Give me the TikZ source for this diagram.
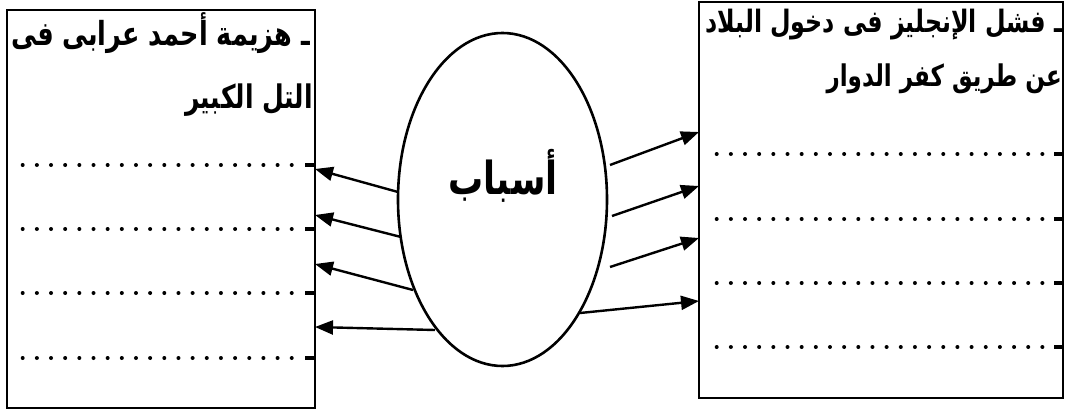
\documentclass[tikz,border=0pt]{standalone}
\usepackage{fontspec}
\TeXXeTstate=1
\newfontfamily\arabicfont[Script=Arabic]{DejaVu Sans}
\usetikzlibrary{shapes.geometric,arrows.meta}
\newcommand{\artxt}[1]{\scalebox{1}[1.3]{\beginR #1\endR}}
\begin{document}
\begin{tikzpicture}[x=1pt,y=-1pt,
  boxnode/.style={draw,line width=2.8pt,inner sep=0pt},
  arr/.style={line width=2.4pt,-{Triangle[length=18pt,width=14pt]}},
  dotline/.style={line width=4pt,line cap=round,dash pattern=on 0pt off 14.16pt},
  endbar/.style={line width=3.4pt},
  ltxt/.style={inner sep=0pt,font=\arabicfont\bfseries\fontsize{25.5}{30}\selectfont},
  rtxt/.style={inner sep=0pt,font=\arabicfont\bfseries\fontsize{23.7}{28}\selectfont},
  bigtxt/.style={inner sep=0pt,font=\arabicfont\bfseries\fontsize{35}{40}\selectfont}]
\useasboundingbox (0,0) rectangle (1066,412);
% boxes
\node[boxnode,minimum width=308pt,minimum height=398pt] (L) at (161,209) {};
\node[boxnode,minimum width=364pt,minimum height=396pt] (R) at (881,200) {};
% ellipse
\node[draw,line width=2.6pt,ellipse,inner sep=0pt,minimum width=209pt,minimum height=333pt] (E) at (502.5,199.5) {};
\node[bigtxt,anchor=base] (sabab) at (503,194) {\artxt{أسباب}};
% texts
\node[ltxt,anchor=base west] (l1) at (11,46) {\artxt{ـ هزيمة أحمد عرابى فى}};
\node[ltxt,font=\arabicfont\bfseries\fontsize{25}{29}\selectfont,anchor=base east] (l2) at (313,109) {\artxt{التل الكبير}};
\node[rtxt,anchor=base east] (r1) at (1062.5,33) {\artxt{ـ فشل الإنجليز فى دخول البلاد}};
\node[rtxt,font=\arabicfont\bfseries\fontsize{23}{27}\selectfont,anchor=base east] (r2) at (1062,86) {\artxt{عن طريق كفر الدوار}};
% dotted lines
\foreach \yy in {165,229,293,358}{
  \draw[dotline] (22.7,\yy) -- (292.5,\yy);
  \draw[endbar] (305,\yy) -- (L.east |- 0,\yy);
}
\foreach \yy in {154,219,283,347}{
  \draw[dotline] (716.7,\yy) -- (1043.5,\yy);
  \draw[endbar] (1054,\yy) -- (R.east |- 0,\yy);
}
% arrow coordinates
\coordinate (Ea) at (398,192); \coordinate (La) at (315,169);
\coordinate (Eb) at (401,237); \coordinate (Lb) at (315,215);
\coordinate (Ec) at (413,290); \coordinate (Lc) at (315,264);
\coordinate (Ed) at (435,330); \coordinate (Ld) at (315,327);
\coordinate (Ee) at (610,165); \coordinate (Ra) at (699,132);
\coordinate (Ef) at (612,216); \coordinate (Rb) at (699,186);
\coordinate (Eg) at (610,267); \coordinate (Rc) at (699,238);
\coordinate (Eh) at (580,313); \coordinate (Rd) at (699,301);
\draw[arr] (Ea) -- (La);
\draw[arr] (Eb) -- (Lb);
\draw[arr] (Ec) -- (Lc);
\draw[arr] (Ed) -- (Ld);
\draw[arr] (Ee) -- (Ra);
\draw[arr] (Ef) -- (Rb);
\draw[arr] (Eg) -- (Rc);
\draw[arr] (Eh) -- (Rd);
\end{tikzpicture}
\end{document}
